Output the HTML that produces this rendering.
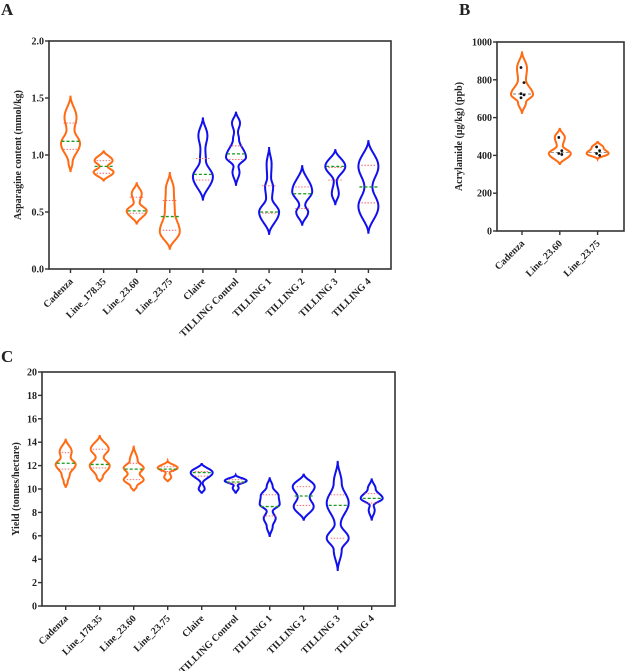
<!DOCTYPE html>
<html><head><meta charset="utf-8"><style>
body{margin:0;background:#fff;width:625px;height:671px;overflow:hidden}
svg{position:absolute;left:0;top:0}
text{font-family:"Liberation Serif",serif;font-weight:bold;fill:#222}
</style></head><body>
<svg id="chart" width="625" height="671"></svg>
<script>
// ---- Panel A data (asparagine, mmol/kg) ----
const catsA = ["Cadenza","Line_178.35","Line_23.60","Line_23.75","Claire","TILLING Control","TILLING 1","TILLING 2","TILLING 3","TILLING 4"];
const rangeA = [[0.85,1.52],[0.77,1.04],[0.39,0.76],[0.17,0.85],[0.6,1.33],[0.73,1.38],[0.3,1.07],[0.38,0.91],[0.56,1.05],[0.31,1.13]];
const densA = [
 [[0.93,2],[1.1,9.5],[1.22,4],[1.33,6]],
 [[0.85,10],[0.9,4],[0.95,9]],
 [[0.51,10],[0.58,3],[0.66,5]],
 [[0.33,10],[0.5,5],[0.7,4]],
 [[0.81,10],[0.95,3],[1.05,2.5],[1.17,4.5]],
 [[0.85,3.5],[0.9,2.5],[0.98,10],[1.14,3],[1.2,2],[1.28,4]],
 [[0.5,10],[0.62,3],[0.72,4],[0.8,2],[0.92,2.5]],
 [[0.5,6],[0.56,3],[0.68,10]],
 [[0.66,3.5],[0.77,1.5],[0.9,10]],
 [[0.55,10],[0.72,4],[0.9,10]]];
const medA = [1.12,0.9,0.51,0.46,0.83,1.01,0.5,0.66,0.9,0.72];
const quartA = [[1.05,1.28],[0.84,0.95],[0.49,0.63],[0.34,0.6],[0.78,0.97],[0.96,1.08],[0.49,0.73],[0.53,0.72],[0.78,0.89],[0.58,0.91]];
const ticksA = ["0.0","0.5","1.0","1.5","2.0"];
// ---- Panel B data (acrylamide ppb) ----
const catsB = ["Cadenza","Line_23.60","Line_23.75"];
const rangeB = [[620,950],[350,545],[380,475]];
const densB = [[[680,4],[722,11],[800,4],[860,5]],[[410,11],[450,3],[495,5]],[[410,11],[440,6]]];
const medB = [725,415,415];
const pointsB = [[865,785,727,720,705],[495,425,410,405],[445,425,410,400]];
const ticksB = ["0","200","400","600","800","1000"];
// ---- Panel C data (yield t/ha) ----
const catsC = catsA;
const rangeC = [[10.1,14.3],[10.6,14.6],[9.8,13.7],[10.6,12.4],[9.6,12.2],[9.6,11.2],[5.9,11],[7.3,11.3],[3,12.4],[7.3,10.9]];
const densC = [
 [[10.6,2],[11.2,4],[12.1,10],[12.7,5],[13.2,6]],
 [[11,3],[12,10],[12.7,4],[13.4,9]],
 [[10.2,3],[10.8,10],[11.3,6],[11.8,10],[12.4,4]],
 [[11,3.5],[11.4,2],[11.8,10]],
 [[10,3],[10.5,1],[11.4,11]],
 [[10.1,3],[10.3,2],[10.7,11]],
 [[6.8,3],[7.5,6],[8.1,3],[8.7,10],[9.4,9],[10.2,3]],
 [[8.5,10],[9.3,6],[10.2,11]],
 [[4.8,4],[5.8,11],[7,3],[8.8,11],[10.5,4]],
 [[8.2,3],[8.6,2],[9.2,11],[10,4]]];
const medC = [12.2,12.1,11.7,11.7,11.4,10.6,8.5,9.4,8.6,9.2];
const quartC = [[11.7,13.1],[11.8,13.4],[10.8,12.2],[11.5,11.9],[11.1,11.5],[10.5,10.8],[7.7,9.5],[8.6,10.2],[5.8,9.5],[8.8,9.6]];
const ticksC = ["0","2","4","6","8","10","12","14","16","18","20"];

const NS="http://www.w3.org/2000/svg", svg=document.getElementById('chart');
function mk(tag,attrs,parent){const e=document.createElementNS(NS,tag);for(const k in attrs)e.setAttribute(k,attrs[k]);(parent||svg).appendChild(e);return e;}
const ORANGE="#ff6a13", BLUE="#1010ee";

function violinPath(cx,yf,range,dens){
  const knots=[[range[0],0],...dens,[range[1],0]];
  const L=[],R=[];
  for(let i=0;i<knots.length-1;i++){
    const [v0,w0]=knots[i],[v1,w1]=knots[i+1];
    for(let s=0;s<12;s++){const t=s/12,f=(1-Math.cos(Math.PI*t))/2;
      const v=v0+(v1-v0)*t,w=w0+(w1-w0)*f;L.push([cx-w,yf(v)]);R.push([cx+w,yf(v)]);}
  }
  L.push([cx,yf(range[1])]);
  const pts=L.concat(R.reverse());
  return "M"+pts.map(p=>p[0].toFixed(2)+","+p[1].toFixed(2)).join("L")+"Z";
}

function panel(o){
  const g=mk('g',{});
  
  
  const yf=v=>o.bottom-(v-o.ymin)/(o.ymax-o.ymin)*(o.bottom-o.top);
  const xf=i=>o.x0+i*o.step;
  const frame=mk('rect',{x:o.left,y:o.top,width:o.right-o.left,height:o.bottom-o.top,fill:'none',stroke:'#333','stroke-width':1.6},g);
  
  o.ticks.forEach((t,i)=>{const v=o.ymin+i*(o.ymax-o.ymin)/(o.ticks.length-1),y=yf(v);
    mk('line',{x1:o.left-4,x2:o.left,y1:y,y2:y,stroke:'#333','stroke-width':1.4},g);
    const tx=mk('text',{x:o.left-5,y:y+3.5,'text-anchor':'end','font-size':10},g);tx.textContent=t;
    });
  const yt=mk('text',{x:0,y:0,'text-anchor':'middle','font-size':10,transform:`translate(${o.left-o.ytOff},${(o.top+o.bottom)/2}) rotate(-90)`},g);
  yt.textContent=o.ytitle;
  o.cats.forEach((c,i)=>{const x=xf(i);
    mk('line',{x1:x,x2:x,y1:o.bottom,y2:o.bottom+4,stroke:'#333','stroke-width':1.4},g);
    const lb=mk('text',{x:0,y:0,'text-anchor':'end','font-size':10,transform:`translate(${x+3},${o.bottom+13}) rotate(-45)`},g);
    lb.textContent=c;
    const col=o.colors[i];
    const p=mk('path',{d:violinPath(x,yf,o.range[i],o.dens[i]),fill:'none',stroke:col,'stroke-width':2},g);
    
    const hw=7;
    if(o.quart){o.quart[i].forEach(q=>{mk('line',{x1:x-hw,x2:x+hw,y1:yf(q),y2:yf(q),stroke:'#f06060','stroke-width':0.9,'stroke-dasharray':'1.5,1.5'},g);});}
    const m=mk('line',{x1:x-hw-2,x2:x+hw+2,y1:yf(o.med[i]),y2:yf(o.med[i]),stroke:o.medColor,'stroke-width':o.medW,'stroke-dasharray':'3,2'},g);
    
    if(o.points){o.points[i].forEach((v,j)=>{const d=mk('circle',{cx:x+((j%2)?2:-1),cy:yf(v),r:1.4,fill:'#111'},g);
      });}
  });
  const lab=mk('text',{x:o.lx,y:o.ly,'font-size':17},g);lab.textContent=o.label;
  
}
const colA=["o","o","o","o","b","b","b","b","b","b"].map(c=>c=="o"?ORANGE:BLUE);
panel({name:'panel-a',label:'A',lx:1,ly:15,left:49,right:391,top:41,bottom:269,ymin:0,ymax:2,x0:70.5,step:33.1,
  ticks:ticksA,cats:catsA,range:rangeA,dens:densA,med:medA,quart:quartA,colors:colA,medColor:'#1a9a1a',medW:1.3,
  ytitle:'Asparagine content (mmol/kg)',ytOff:28});
panel({name:'panel-b',label:'B',lx:459,ly:15,left:497,right:624,top:42,bottom:231,ymin:0,ymax:1000,x0:522,step:37.8,
  ticks:ticksB,cats:catsB,range:rangeB,dens:densB,med:medB,points:pointsB,colors:[ORANGE,ORANGE,ORANGE],medColor:'#555',medW:0.7,
  ytitle:'Acrylamide (µg/kg) (ppb)',ytOff:35});
panel({name:'panel-c',label:'C',lx:1,ly:362,left:42,right:395,top:372,bottom:606,ymin:0,ymax:20,x0:65.7,step:34.0,
  ticks:ticksC,cats:catsC,range:rangeC,dens:densC,med:medC,quart:quartC,colors:colA,medColor:'#1a9a1a',medW:1.3,
  ytitle:'Yield (tonnes/hectare)',ytOff:23});
</script>
</body></html>
